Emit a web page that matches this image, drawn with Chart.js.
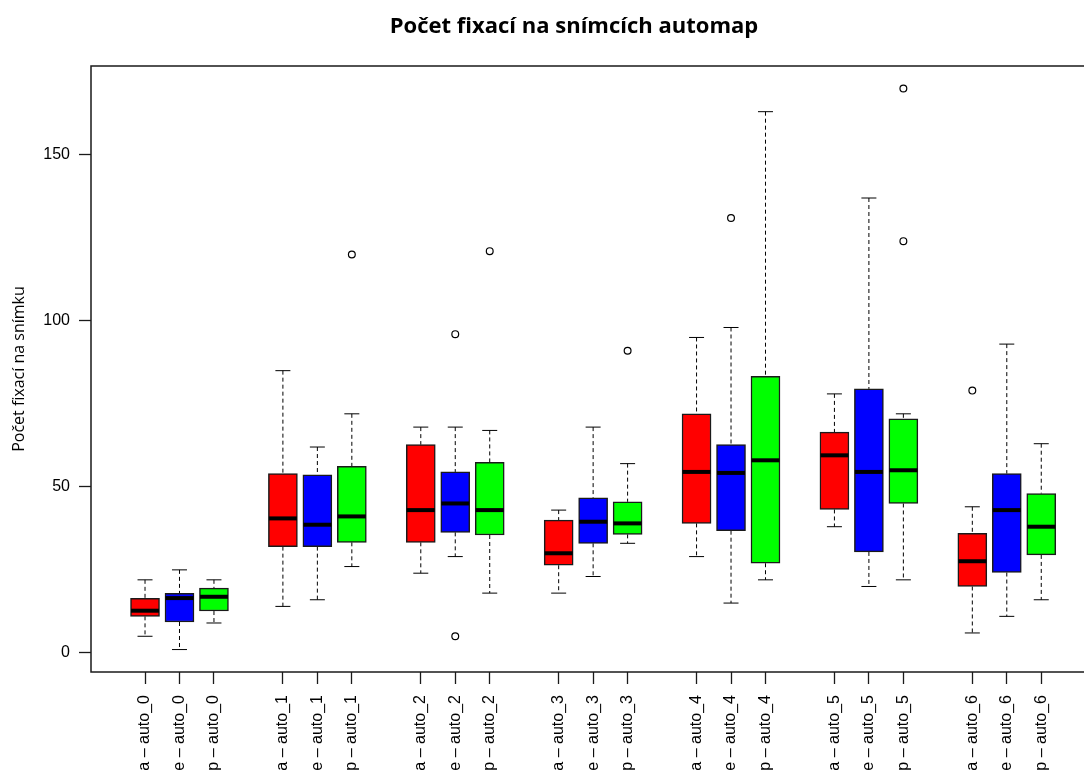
<!DOCTYPE html>
<html>
<head>
<meta charset="utf-8">
<script src="https://cdn.jsdelivr.net/npm/chart.js@4.4.1/dist/chart.umd.min.js"></script>
<style>
  html, body { margin: 0; padding: 0; background: #ffffff; }
  #wrap { width: 1084px; height: 776px; }
</style>
</head>
<body>
<div id="wrap"><canvas id="chart" width="1084" height="776"></canvas></div>
<script>
// Texts
const TITLE = 'Počet fixací na snímcích automap';
const Y_TITLE = 'Počet fixací na snímku';

// Categories
const GROUPS = ['auto_0', 'auto_1', 'auto_2', 'auto_3', 'auto_4', 'auto_5', 'auto_6'];
const SERIES = ['a', 'e', 'p'];
const Y_TICKS = [0, 50, 100, 150];

// Five-number summaries per group, series "a"
const a_min = [5, 14, 24, 18, 29, 38, 6];
const a_q1  = [11, 32, 33.3, 26.4, 39, 43.2, 20];
const a_med = [12.7, 40.5, 43, 30, 54.5, 59.5, 27.6];
const a_q3  = [16.4, 54, 62.7, 40, 72, 66.5, 36];
const a_max = [22, 85, 68, 43, 95, 78, 44];
const a_out = [[], [], [], [], [], [], [79]];

// series "e"
const e_min = [1, 16, 29, 23, 15, 20, 11];
const e_q1  = [9.3, 32, 36.3, 33, 36.8, 30.4, 24.2];
const e_med = [16.5, 38.6, 45, 39.5, 54.2, 54.5, 43];
const e_q3  = [17.9, 53.6, 54.5, 46.7, 62.7, 79.5, 54];
const e_max = [25, 62, 68, 68, 98, 137, 93];
const e_out = [[], [], [96, 5], [], [131], [], []];

// series "p"
const p_min = [9, 26, 18, 33, 22, 22, 16];
const p_q1  = [12.6, 33.3, 35.5, 35.7, 27, 45, 29.5];
const p_med = [16.9, 41.1, 43, 39, 58, 55, 38];
const p_q3  = [19.5, 56.2, 57.4, 45.5, 83.3, 70.5, 48];
const p_max = [22, 72, 67, 57, 163, 72, 63];
const p_out = [[], [120], [121], [91], [], [170, 124], []];

const STATS = {
  a: { min: a_min, q1: a_q1, med: a_med, q3: a_q3, max: a_max, out: a_out },
  e: { min: e_min, q1: e_q1, med: e_med, q3: e_q3, max: e_max, out: e_out },
  p: { min: p_min, q1: p_q1, med: p_med, q3: p_q3, max: p_max, out: p_out }
};
const FILL = { a: '#ff0000', e: '#0000ff', p: '#00ff00' };

// Box slot on the x axis: groups are separated by one empty slot
const slot = (g, s) => 1 + g * (SERIES.length + 1) + s;

const X_TICKS = [];
const X_LABELS = [];
GROUPS.forEach((g, gi) => SERIES.forEach((s, si) => {
  X_TICKS.push(slot(gi, si));
  X_LABELS.push(s + ' – ' + g);
}));

const datasets = [];
SERIES.forEach((s, si) => {
  const st = STATS[s];
  const boxes = [], meds = [], caps = [], whisk = [], outs = [];
  GROUPS.forEach((g, gi) => {
    const x = slot(gi, si);
    boxes.push({ x, y: [st.q1[gi], st.q3[gi]] });
    meds.push({ x, y: st.med[gi] });
    caps.push({ x, y: st.min[gi] }, { x, y: st.max[gi] });
    whisk.push({ x, y: st.max[gi] }, { x, y: st.q3[gi] }, { x, y: null },
               { x, y: st.q1[gi] }, { x, y: st.min[gi] }, { x, y: null });
    st.out[gi].forEach(v => outs.push({ x, y: v }));
  });
  datasets.push({
    type: 'bar', label: s, data: boxes, order: 3,
    backgroundColor: FILL[s], borderColor: '#1a1a1a', borderWidth: 1.5,
    borderSkipped: false, barThickness: 29, grouped: false
  });
  datasets.push({
    type: 'line', label: s + ' whiskers', data: whisk, order: 4,
    borderColor: '#000', borderWidth: 1, borderDash: [4, 3],
    pointRadius: 0, spanGaps: false, fill: false
  });
  datasets.push({
    type: 'scatter', label: s + ' caps', data: caps, order: 2,
    pointStyle: 'line', pointRadius: 7.5, borderColor: '#000', borderWidth: 1
  });
  datasets.push({
    type: 'scatter', label: s + ' medians', data: meds, order: 0,
    pointStyle: 'line', pointRadius: 14, borderColor: '#000', borderWidth: 4
  });
  datasets.push({
    type: 'scatter', label: s + ' outliers', data: outs, order: 1,
    pointStyle: 'circle', pointRadius: 3.4, borderColor: '#000', borderWidth: 1.2,
    backgroundColor: 'rgba(255,255,255,0)'
  });
});

// Plot frame and heading
const framePlugin = {
  id: 'frame',
  afterDraw(chart) {
    const { ctx, chartArea: a } = chart;
    ctx.save();
    ctx.strokeStyle = '#1a1a1a';
    ctx.lineWidth = 1.5;
    ctx.strokeRect(a.left, a.top, a.right - a.left + 2, a.bottom - a.top);
    ctx.font = "bold 22px 'Open Sans'";
    ctx.fillStyle = '#000';
    ctx.textAlign = 'center';
    ctx.textBaseline = 'alphabetic';
    ctx.fillText(TITLE, 574, 33);
    ctx.restore();
  }
};

Chart.defaults.color = '#000';
Chart.defaults.font.family = "'Liberation Sans', Arial, sans-serif";

new Chart(document.getElementById('chart'), {
  type: 'bar',
  data: { datasets },
  options: {
    responsive: false,
    animation: false,
    events: [],
    layout: { autoPadding: false, padding: { top: 66, right: 0, bottom: 0, left: 0 } },
    plugins: { legend: { display: false }, tooltip: { enabled: false }, title: { display: false } },
    scales: {
      x: {
        type: 'linear',
        min: -0.567,
        max: 28.24,
        offset: false,
        grid: { drawOnChartArea: false, offset: false, tickLength: 12, tickColor: '#1a1a1a', tickWidth: 1.3 },
        border: { display: false },
        afterBuildTicks: sc => { sc.ticks = X_TICKS.map(v => ({ value: v })); },
        afterFit: sc => { sc.height = 104; sc.paddingLeft = 0; sc.paddingRight = 0; },
        ticks: {
          autoSkip: false, maxRotation: 90, minRotation: 90, padding: 11,
          font: { size: 16 },
          callback: (v, i) => X_LABELS[i]
        }
      },
      y: {
        type: 'linear',
        min: -5.76,
        max: 176.76,
        grid: { drawOnChartArea: false, tickLength: 12, tickColor: '#1a1a1a', tickWidth: 1.3 },
        border: { display: false },
        afterBuildTicks: sc => { sc.ticks = Y_TICKS.map(v => ({ value: v })); },
        afterFit: sc => { sc.width = 91; sc.paddingTop = 0; sc.paddingBottom = 0; },
        ticks: { padding: 9, font: { size: 16 } },
        title: {
          display: true, text: Y_TITLE,
          font: { family: "'Open Sans'", size: 16 },
          padding: { top: 10, bottom: 0 }
        }
      }
    }
  },
  plugins: [framePlugin]
});
</script>
</body>
</html>
